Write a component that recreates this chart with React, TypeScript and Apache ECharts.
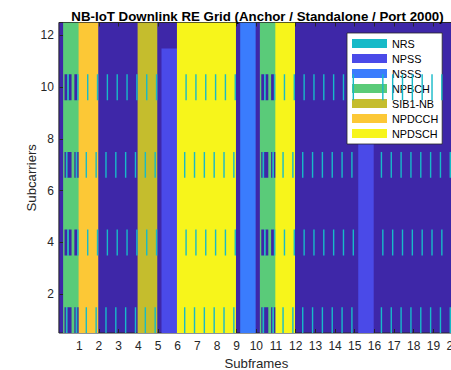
import React, { useEffect, useRef } from "react";
import * as echarts from "echarts";

// ---- Data ----
const channelNames = ["NRS", "NPSS", "NSSS", "NPBCH", "SIB1-NB", "NPDCCH", "NPDSCH"];
const channelColors = ["#17BAC8", "#4A4AE8", "#3A7CFD", "#5ACB79", "#C5BD2D", "#FCC836", "#F7F51B"];
const emptyColor = "#3E27A8";

// channel carried by each of the 20 subframes ("" = no channel)
const subframeChannel = [
  "NPBCH", "NPDCCH", "", "", "SIB1-NB", "NPSS", "NPDSCH", "NPDSCH", "NPDSCH", "NSSS",
  "NPBCH", "NPDSCH", "", "", "", "NPSS", "", "", "", "",
];
// first OFDM symbol used by each channel inside its subframe
const channelFirstSymbol: Record<string, number> = {
  NPBCH: 3, NPSS: 3, NSSS: 3, "SIB1-NB": 0, NPDCCH: 0, NPDSCH: 0,
};
// highest subcarrier used by each channel
const channelTopSubcarrier: Record<string, number> = {
  NPBCH: 12, NPSS: 11, NSSS: 12, "SIB1-NB": 12, NPDCCH: 12, NPDSCH: 12,
};
// NRS (port 2000) positions
const nrsSymbolsA = [5, 12];
const nrsRowsA = [1, 7];
const nrsSymbolsB = [6, 13];
const nrsRowsB = [4, 10];
// LTE CRS symbols reserved in NPBCH subframes
const crsSymbols = [4, 7, 8, 11];

const subframeTicks = [1, 2, 3, 4, 5, 6, 7, 8, 9, 10, 11, 12, 13, 14, 15, 16, 17, 18, 19, 20];
const subcarrierTicks = [2, 4, 6, 8, 10, 12];

const SYM = 14;
const NSF = 20;
const FONT = "'Liberation Sans', Arial, Helvetica, sans-serif";
const AXIS_COLOR = "#262626";

function buildBlocks() {
  const blocks: Record<string, number[][]> = {};
  channelNames.forEach((n) => (blocks[n] = []));
  blocks.reserved = [];
  let sf = 0;
  while (sf < NSF) {
    const ch = subframeChannel[sf];
    if (!ch) { sf++; continue; }
    let end = sf;
    while (end + 1 < NSF && subframeChannel[end + 1] === ch && channelFirstSymbol[ch] === 0) end++;
    const x0 = sf * SYM + channelFirstSymbol[ch] - 0.5;
    let x1 = end * SYM + 13 + 0.5;
    const next = subframeChannel[end + 1];
    if (next && channelFirstSymbol[next] === 0) x1 += 0.6;
    blocks[ch].push([x0, x1, 0.5, channelTopSubcarrier[ch] + 0.5]);
    sf = end + 1;
  }
  const reservedRows: Record<number, boolean[]> = {};
  for (let s = 0; s < NSF; s++) {
    const ch = subframeChannel[s];
    if (ch === "NPSS" || ch === "NSSS") continue;
    const base = s * SYM;
    nrsSymbolsA.forEach((sym) => nrsRowsA.forEach((r) => blocks.NRS.push([base + sym - 0.5, base + sym + 0.5, r - 0.5, r + 0.5])));
    nrsSymbolsB.forEach((sym) => nrsRowsB.forEach((r) => blocks.NRS.push([base + sym - 0.5, base + sym + 0.5, r - 0.5, r + 0.5])));
    if (ch === "NPBCH") {
      const mark = (r: number, sym: number) => {
        if (!reservedRows[r]) reservedRows[r] = new Array(SYM * NSF).fill(false);
        reservedRows[r][base + sym] = true;
      };
      [...nrsRowsA, ...nrsRowsB].forEach((r) => crsSymbols.forEach((sym) => mark(r, sym)));
      nrsSymbolsA.forEach((sym) => nrsRowsB.forEach((r) => mark(r, sym)));
      nrsSymbolsB.forEach((sym) => nrsRowsA.forEach((r) => mark(r, sym)));
    }
  }
  Object.keys(reservedRows).forEach((k) => {
    const r = Number(k);
    const row = reservedRows[r];
    let i = 0;
    while (i < row.length) {
      if (!row[i]) { i++; continue; }
      let j = i;
      while (j + 1 < row.length && row[j + 1]) j++;
      blocks.reserved.push([i - 0.5, j + 0.5, r - 0.5, r + 0.5]);
      i = j + 1;
    }
  });
  return blocks;
}

export default function App() {
  const ref = useRef<HTMLDivElement>(null);
  useEffect(() => {
    if (!ref.current) return;
    const chart = echarts.init(ref.current, null, { renderer: "svg" });
    const blocks = buildBlocks();
    const rectItem = (color: string) => (params: any, api: any) => {
      const p0 = api.coord([api.value(0), api.value(3)]);
      const p1 = api.coord([api.value(1), api.value(2)]);
      return {
        type: "rect",
        shape: { x: p0[0], y: p0[1], width: p1[0] - p0[0], height: p1[1] - p0[1] },
        style: { fill: color },
      };
    };
    const series: any[] = channelNames.map((name, i) => ({
      type: "custom",
      name,
      data: blocks[name],
      encode: { x: [0, 1], y: [2, 3] },
      renderItem: rectItem(channelColors[i]),
      itemStyle: { color: channelColors[i] },
      clip: true,
      silent: true,
      z: name === "NRS" ? 4 : 2,
    }));
    series.push({
      type: "custom",
      name: "reserved",
      data: blocks.reserved,
      encode: { x: [0, 1], y: [2, 3] },
      renderItem: rectItem(emptyColor),
      itemStyle: { color: emptyColor },
      clip: true,
      silent: true,
      z: 3,
    });
    const tickVals = subframeTicks.map((t) => t * SYM);
    const xCommon = {
      type: "value",
      min: -0.5,
      max: SYM * NSF + 0.5,
      splitLine: { show: false },
      axisLine: { show: false },
    };
    chart.setOption({
      animation: false,
      title: {
        text: "NB-IoT Downlink RE Grid (Anchor / Standalone / Port 2000)",
        left: 252.5,
        top: 5,
        textAlign: "center",
        textStyle: { fontFamily: FONT, fontSize: 13.3, fontWeight: "bold", color: "#000" },
      },
      grid: {
        left: 58.9, top: 22.5, width: 394.9, height: 310.5,
        outerBoundsMode: "none",
        containLabel: false,
        show: true, backgroundColor: emptyColor, borderColor: AXIS_COLOR, borderWidth: 1,
      },
      legend: {
        data: channelNames,
        orient: "vertical",
        left: 347,
        top: 33,
        icon: "rect",
        itemWidth: 35,
        itemHeight: 9,
        itemGap: 4,
        backgroundColor: "#fff",
        borderColor: AXIS_COLOR,
        borderWidth: 0.8,
        padding: [5, 4, 5, 5],
        selectedMode: false,
        textStyle: { fontFamily: FONT, fontSize: 10.8, color: "#000" },
      },
      xAxis: [
        {
          ...xCommon,
          position: "bottom",
          name: "Subframes",
          nameLocation: "middle",
          nameGap: 22,
          nameTextStyle: { fontFamily: FONT, fontSize: 13.2, color: AXIS_COLOR },
          axisTick: { show: true, inside: true, length: 4, customValues: tickVals, lineStyle: { color: AXIS_COLOR } },
          axisLabel: {
            show: true, customValues: tickVals, margin: 7,
            formatter: (v: number) => String(Math.round(v / SYM)),
            fontFamily: FONT, fontSize: 12, color: AXIS_COLOR,
          },
        },
        {
          ...xCommon,
          position: "top",
          axisTick: { show: true, inside: true, length: 4, customValues: tickVals, lineStyle: { color: AXIS_COLOR } },
          axisLabel: { show: false },
        },
      ],
      yAxis: {
        type: "value",
        min: 0.5,
        max: 12.5,
        splitLine: { show: false },
        axisLine: { show: false },
        name: "Subcarriers",
        nameLocation: "middle",
        nameGap: 21,
        nameMoveOverlap: false,
        nameTextStyle: { fontFamily: FONT, fontSize: 13.2, color: AXIS_COLOR },
        axisTick: { show: true, inside: true, length: 4, customValues: subcarrierTicks, lineStyle: { color: AXIS_COLOR } },
        axisLabel: {
          show: true, customValues: subcarrierTicks, margin: 5,
          fontFamily: FONT, fontSize: 12, color: AXIS_COLOR,
        },
      },
      series,
    });
    return () => chart.dispose();
  }, []);
  return (
    <div
      ref={ref}
      style={{ position: "absolute", left: 0, top: 0, width: 451, height: 370, background: "#fff" }}
    />
  );
}
